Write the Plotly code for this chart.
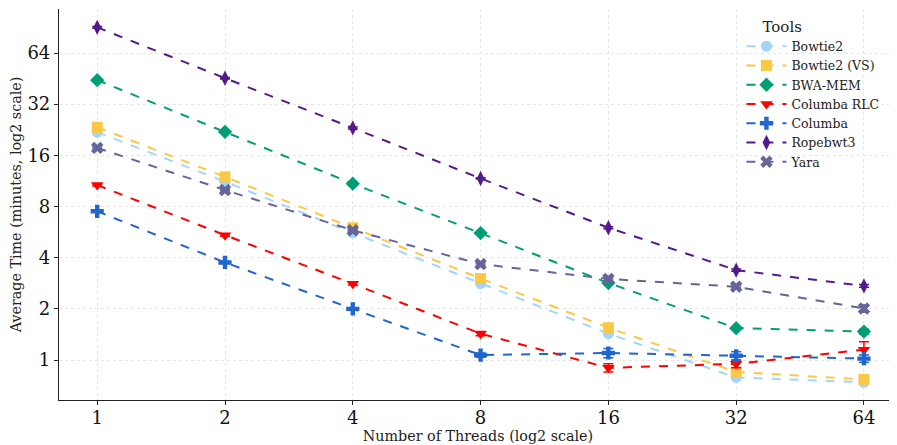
import plotly.graph_objects as go

threads = [1, 2, 4, 8, 16, 32, 64]
tick_labels = ["1", "2", "4", "8", "16", "32", "64"]
y_ticks = [1, 2, 4, 8, 16, 32, 64]

bowtie2 = [21.9, 11.2, 5.6, 2.82, 1.43, 0.79, 0.74]
bowtie2_vs = [23.4, 11.96, 6.0, 3.02, 1.55, 0.85, 0.77]
bwa_mem = [44.3, 22.0, 10.9, 5.58, 2.84, 1.54, 1.47]
columba_rlc = [10.7, 5.43, 2.81, 1.43, 0.90, 0.95, 1.15]
columba = [7.5, 3.75, 2.0, 1.07, 1.10, 1.06, 1.02]
ropebwt3 = [90.6, 45.5, 23.2, 11.7, 6.0, 3.38, 2.73]
yara = [17.7, 10.0, 5.8, 3.67, 3.0, 2.70, 2.01]

bowtie2_err = [0.2, 0.1, 0.05, 0.03, 0.02, 0.01, 0.01]
bowtie2_vs_err = [0.2, 0.1, 0.05, 0.03, 0.02, 0.02, 0.01]
bwa_mem_err = [0.3, 0.2, 0.1, 0.05, 0.04, 0.03, 0.05]
columba_rlc_err = [0.15, 0.08, 0.05, 0.04, 0.05, 0.05, 0.13]
columba_err = [0.08, 0.05, 0.03, 0.03, 0.07, 0.06, 0.05]
ropebwt3_err = [1.0, 0.5, 0.3, 0.1, 0.08, 0.05, 0.05]
yara_err = [0.2, 0.1, 0.05, 0.05, 0.04, 0.04, 0.1]

series = [
    ("Bowtie2", bowtie2, bowtie2_err, "#a3d5f7", "circle"),
    ("Bowtie2 (VS)", bowtie2_vs, bowtie2_vs_err, "#fcc744", "square"),
    ("BWA-MEM", bwa_mem, bwa_mem_err, "#009e73", "diamond"),
    ("Columba RLC", columba_rlc, columba_rlc_err, "#ff0000", "triangle-down"),
    ("Columba", columba, columba_err, "#2166cc", "cross"),
    ("Ropebwt3", ropebwt3, ropebwt3_err, "#541a8b", "diamond-tall"),
    ("Yara", yara, yara_err, "#65659b", "x"),
]

fig = go.Figure()
for name, vals, errs, color, sym in series:
    fig.add_trace(go.Scatter(
        x=threads, y=vals, name=name, mode="lines+markers",
        line=dict(color=color, width=2, dash="dash"),
        marker=dict(color=color, symbol=sym, size=11),
        error_y=dict(type="data", array=errs, visible=True, color=color, thickness=1.5, width=5),
    ))

font_family = "DejaVu Serif"
# page body has an 8px default margin, so the figure is sized/offset to compensate
fig.update_layout(
    width=889, height=437,
    margin=dict(l=51, r=0, t=1, b=45),
    paper_bgcolor="white", plot_bgcolor="white",
    font=dict(family=font_family, color="#222"),
    showlegend=True,
    legend=dict(
        title=dict(text="\u00a0\u00a0\u00a0\u00a0Tools", font=dict(size=15, family=font_family)),
        font=dict(size=12.5, family=font_family),
        x=0.985, xanchor="right", y=0.992, yanchor="top",
        bgcolor="rgba(255,255,255,0)", tracegroupgap=0, itemwidth=40,
    ),
    xaxis=dict(
        type="log", range=[-0.09, 1.884], automargin=False,
        tickvals=threads, ticktext=tick_labels,
        tickfont=dict(size=18, family=font_family, color="#111"),
        title=dict(text="Number of Threads (log2 scale)", font=dict(size=14.3, family=font_family), standoff=1),
        showline=True, linecolor="#222", linewidth=1.2, mirror=False,
        ticks="outside", ticklen=4, tickcolor="#222", ticklabelstandoff=-3,
        showgrid=True, gridcolor="#e6e6e6", griddash="dot", gridwidth=1,
        zeroline=False,
    ),
    yaxis=dict(
        type="log", range=[-0.235, 2.065], automargin=False,
        tickvals=y_ticks, ticktext=[str(v) for v in y_ticks],
        tickfont=dict(size=18, family=font_family, color="#111"),
        title=dict(text="Average Time (minutes, log2 scale)", font=dict(size=14.3, family=font_family), standoff=3),
        showline=True, linecolor="#222", linewidth=1.2, mirror=False,
        ticks="outside", ticklen=4, tickcolor="#222",
        showgrid=True, gridcolor="#e6e6e6", griddash="dot", gridwidth=1,
        zeroline=False,
    ),
)

fig.write_html("out.html")
